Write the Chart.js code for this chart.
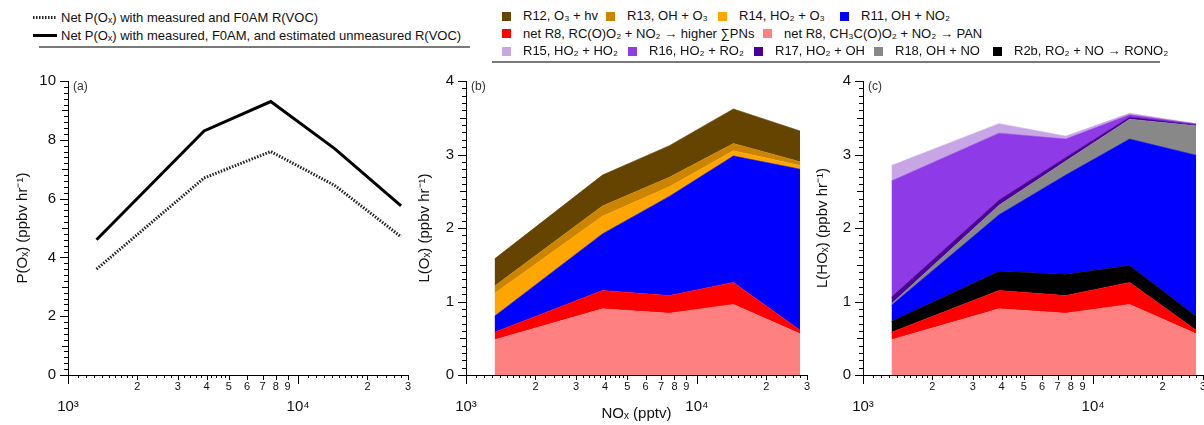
<!DOCTYPE html>
<html>
<head>
<meta charset="utf-8">
<script src="https://cdn.jsdelivr.net/npm/chart.js@4.4.1/dist/chart.umd.min.js"></script>
<style>
html,body{margin:0;padding:0;background:#fff;}
#wrap{position:relative;width:1204px;height:425px;overflow:hidden;font-family:'Liberation Sans',Arial,sans-serif;color:#111;}
canvas{position:absolute;}
.legrow{position:absolute;left:0;white-space:nowrap;font-size:13px;line-height:14px;}
.item{position:absolute;display:flex;align-items:center;transform:translateY(-50%);}
.sw{width:9px;height:9px;margin-right:12px;flex:none;}
.rule{position:absolute;height:0;border-top:2px solid #7a7a7a;}
.laitem{position:absolute;display:flex;align-items:center;transform:translateY(-50%);font-size:13px;white-space:nowrap;}
.laitem svg{margin-right:4px;}
</style>
</head>
<body>
<div id="wrap">
  <canvas id="cA" width="420" height="365" style="left:0;top:60px"></canvas>
  <canvas id="cB" width="420" height="363" style="left:410px;top:60px"></canvas>
  <canvas id="cC" width="420" height="365" style="left:810px;top:60px"></canvas>
</div>
<script>
// ---------------- data ----------------
const noxPptv = [1330, 3900, 7600, 14400, 28000];

// panel (a): net P(Ox), ppbv/hr
const netPOxMeasuredF0AM   = [3.6, 6.7, 7.6, 6.45, 4.7];
const netPOxWithUnmeasured = [4.6, 8.3, 9.3, 7.7, 5.75];

// loss terms, ppbv/hr (individual contributions, stacked)
const lossR8PAN = [0.48, 0.90, 0.84, 0.96, 0.56];
const lossR8PNs = [0.10, 0.25, 0.24, 0.30, 0.05];
const lossR11   = [0.22, 0.77, 1.35, 1.72, 2.19];
const lossR14   = [0.31, 0.24, 0.13, 0.07, 0.05];
const lossR13   = [0.10, 0.14, 0.13, 0.10, 0.05];
const lossR12   = [0.37, 0.42, 0.43, 0.47, 0.42];
const lossR2b   = [0.15, 0.26, 0.29, 0.23, 0.19];
const lossR18   = [0.02, 0.13, 0.19, 0.27, 0.40];
const lossR17   = [0.09, 0.07, 0.05, 0.03, 0.015];
const lossR16   = [1.58, 0.91, 0.25, 0.03, 0.01];
const lossR15   = [0.21, 0.13, 0.04, 0.02, 0.005];

// tick labels
const xTickValues = [1000, 2000, 3000, 4000, 5000, 6000, 7000, 8000, 9000, 10000, 20000, 30000];
const xTickLabels = [['', '10³'], '2', '3', '4', '5', '6', '7', '8', '9', ['', '10⁴'], '2', '3'];
const yTicksA  = [0, 2, 4, 6, 8, 10];
const yTicksBC = [0, 1, 2, 3, 4];

// series names
const labelA1 = 'Net P(Oₓ) with measured and F0AM R(VOC)';
const labelA2 = 'Net P(Oₓ) with measured, F0AM, and estimated unmeasured R(VOC)';
const seriesLabels = {
  R12: 'R12, O₃ + hv', R13: 'R13, OH + O₃', R14: 'R14, HO₂ + O₃', R11: 'R11, OH + NO₂',
  PNs: 'net R8, RC(O)O₂ + NO₂ → higher ∑PNs', PAN: 'net R8, CH₃C(O)O₂ + NO₂ → PAN',
  R15: 'R15, HO₂ + HO₂', R16: 'R16, HO₂ + RO₂', R17: 'R17, HO₂ + OH', R18: 'R18, OH + NO',
  R2b: 'R2b, RO₂ + NO → RONO₂'
};
const seriesValues = {
  R12: lossR12, R13: lossR13, R14: lossR14, R11: lossR11, PNs: lossR8PNs, PAN: lossR8PAN,
  R15: lossR15, R16: lossR16, R17: lossR17, R18: lossR18, R2b: lossR2b
};
const stackB = ['PAN', 'PNs', 'R11', 'R14', 'R13', 'R12'];
const stackC = ['PAN', 'PNs', 'R2b', 'R11', 'R18', 'R17', 'R16', 'R15'];
const legendRows = [['R12', 'R13', 'R14', 'R11'], ['PNs', 'PAN'], ['R15', 'R16', 'R17', 'R18', 'R2b']];

// ---------------- styles ----------------
const seriesColors = {
  R12: '#654400', R13: '#CC8500', R14: '#FFA500', R11: '#0000FF', PNs: '#FF0000', PAN: '#FF8080',
  R15: '#C8A6E6', R16: '#8E3AE6', R17: '#4A0096', R18: '#888888', R2b: '#000000'
};
const FONT = "'Liberation Sans', Arial, sans-serif";

// ---------------- plugins ----------------
const igorTicks = {
  id: 'igorTicks',
  afterDraw(chart, args, opts) {
    const {ctx} = chart;
    const xs = chart.scales.x, ys = chart.scales.y;
    ctx.save();
    ctx.strokeStyle = '#000';
    ctx.lineWidth = 1;
    ctx.beginPath();
    const n = Math.round((ys.max - ys.min) / opts.yMinor);
    for (let i = 0; i <= n; i++) {
      const v = ys.min + i * opts.yMinor;
      const py = Math.round(ys.getPixelForValue(v)) + 0.5;
      const len = i % 10 === 0 ? 8 : (i % 5 === 0 ? 6 : 4);
      ctx.moveTo(ys.right - len, py);
      ctx.lineTo(ys.right, py);
    }
    for (let d = xs.min; d < xs.max; d *= 10) {
      for (let m = 10; m < 100; m++) {
        const show = m % 10 === 0 || m < 20 || (m < 50 && m % 2 === 0);
        if (!show) continue;
        const v = d * m / 10;
        if (v > xs.max * 1.0001) break;
        const px = Math.round(xs.getPixelForValue(v)) + 0.5;
        const len = m === 10 ? 9 : (m % 10 === 0 ? 5 : 3);
        ctx.moveTo(px, xs.top);
        ctx.lineTo(px, xs.top + len);
      }
    }
    ctx.stroke();
    ctx.restore();
  }
};
const panelLabel = {
  id: 'panelLabel',
  afterDraw(chart, args, opts) {
    const {ctx, chartArea: a} = chart;
    ctx.save();
    ctx.font = '12px ' + FONT;
    ctx.fillStyle = '#333';
    ctx.textBaseline = 'middle';
    ctx.fillText(opts.text, a.left + 5, a.top + 6);
    ctx.restore();
  }
};

function makeScales(o) {
  return {
    x: {
      type: 'logarithmic', min: 1000, max: 30000,
      afterBuildTicks: s => { s.ticks = xTickValues.map(v => ({value: v})); },
      afterFit: s => { s.height = o.xH; },
      grid: {display: false, drawTicks: false},
      border: {display: true, color: '#000', width: 1},
      ticks: {
        autoSkip: false, maxRotation: 0, minRotation: 0, padding: 5, color: '#111',
        font: c => ({family: FONT, size: Array.isArray(xTickLabels[c.index]) ? 15 : 11}),
        callback: (v, i) => xTickLabels[i]
      },
      title: o.xTitle ? {display: true, text: o.xTitle, color: '#111', padding: 0, font: {family: FONT, size: 15}} : {display: false}
    },
    y: {
      min: 0, max: o.yMax, stacked: !!o.stacked,
      afterBuildTicks: s => { s.ticks = o.yTicks.map(v => ({value: v})); },
      afterFit: s => { s.width = o.yW; },
      grid: {display: false, drawTicks: false},
      border: {display: true, color: '#000', width: 1},
      ticks: {padding: 12, color: '#111', font: {family: FONT, size: 15}, callback: v => String(v)},
      title: {display: true, text: o.yTitle, color: '#111', padding: 0, font: {family: FONT, size: 15}}
    }
  };
}

function baseOptions(o) {
  return {
    responsive: false, animation: false, devicePixelRatio: 1,
    layout: {padding: o.padding},
    plugins: {legend: {display: false}, tooltip: {enabled: false}, panelLabel: {text: o.panel}, igorTicks: {yMinor: o.yMinor}},
    elements: {point: {radius: 0}, line: {tension: 0}},
    scales: makeScales(o)
  };
}

function stackDatasets(keys) {
  return keys.map((k, i) => ({
    label: seriesLabels[k],
    data: noxPptv.map((x, j) => ({x: x, y: seriesValues[k][j]})),
    backgroundColor: seriesColors[k],
    borderColor: seriesColors[k],
    borderWidth: 0.6,
    fill: i === 0 ? 'origin' : '-1',
    pointRadius: 0
  }));
}

// ---------------- panel (a) ----------------
new Chart(document.getElementById('cA'), {
  type: 'line',
  data: {
    datasets: [
      {label: labelA1, data: noxPptv.map((x, j) => ({x: x, y: netPOxMeasuredF0AM[j]})),
       borderColor: '#222', borderWidth: 3, borderDash: [1.5, 1.5], fill: false, pointRadius: 0},
      {label: labelA2, data: noxPptv.map((x, j) => ({x: x, y: netPOxWithUnmeasured[j]})),
       borderColor: '#000', borderWidth: 3, fill: false, pointRadius: 0}
    ]
  },
  options: baseOptions({padding: {left: 14, right: 12, top: 15, bottom: 0}, yW: 54, xH: 50, yMax: 10, yTicks: yTicksA,
    yMinor: 0.2, yTitle: 'P(Oₓ) (ppbv hr⁻¹)', panel: '(a)'}),
  plugins: [igorTicks, panelLabel]
});

// ---------------- panel (b) ----------------
new Chart(document.getElementById('cB'), {
  type: 'line',
  data: {datasets: stackDatasets(stackB)},
  options: baseOptions({padding: {left: 6, right: 23, top: 15, bottom: 0}, yW: 50, xH: 48, yMax: 4, yTicks: yTicksBC,
    yMinor: 0.1, stacked: true, yTitle: 'L(Oₓ) (ppbv hr⁻¹)', xTitle: 'NOₓ (pptv)', panel: '(b)'}),
  plugins: [igorTicks, panelLabel]
});

// ---------------- panel (c) ----------------
new Chart(document.getElementById('cC'), {
  type: 'line',
  data: {datasets: stackDatasets(stackC)},
  options: baseOptions({padding: {left: 4, right: 27, top: 15, bottom: 0}, yW: 49, xH: 50, yMax: 4, yTicks: yTicksBC,
    yMinor: 0.1, stacked: true, yTitle: 'L(HOₓ) (ppbv hr⁻¹)', panel: '(c)'}),
  plugins: [igorTicks, panelLabel]
});

// ---------------- legends (HTML) ----------------
(function () {
  const wrap = document.getElementById('wrap');
  // left legend
  const legA = [{label: labelA1, dash: '1.5 1.5', color: '#222'}, {label: labelA2, dash: '', color: '#000'}];
  const legAY = [17, 35];
  legA.forEach((it, i) => {
    const d = document.createElement('div');
    d.className = 'laitem';
    d.style.left = '33px';
    d.style.top = legAY[i] + 'px';
    d.innerHTML = '<svg width="24" height="6"><line x1="0" y1="3" x2="24" y2="3" stroke="' + it.color +
      '" stroke-width="3"' + (it.dash ? ' stroke-dasharray="' + it.dash + '"' : '') + '/></svg><span>' + it.label + '</span>';
    wrap.appendChild(d);
  });
  const r1 = document.createElement('div');
  r1.className = 'rule';
  r1.style.cssText = 'left:39px;width:431px;top:46px;';
  wrap.appendChild(r1);

  // right legend
  const rowY = [16, 33.5, 51];
  const rowX = [[502, 606, 718, 840], [502, 763], [502, 628, 754, 874, 993]];
  legendRows.forEach((row, r) => {
    row.forEach((k, i) => {
      const d = document.createElement('div');
      d.className = 'item legrow';
      d.style.left = rowX[r][i] + 'px';
      d.style.top = rowY[r] + 'px';
      d.innerHTML = '<span class="sw" style="background:' + seriesColors[k] + '"></span><span>' + seriesLabels[k] + '</span>';
      wrap.appendChild(d);
    });
  });
  const r2 = document.createElement('div');
  r2.className = 'rule';
  r2.style.cssText = 'left:492px;width:668px;top:61px;';
  wrap.appendChild(r2);
})();
</script>
</body>
</html>
